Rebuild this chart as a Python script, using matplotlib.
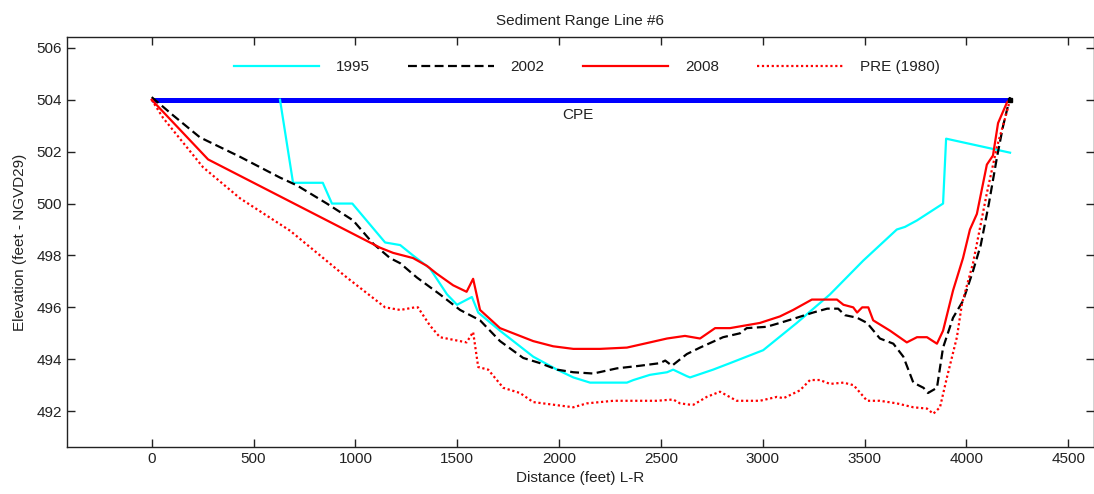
import numpy as np
import matplotlib
matplotlib.use('Agg')
from matplotlib import pyplot as plt

plt.rcParams['font.family'] = ['Liberation Sans', 'DejaVu Sans']

# cross-section survey points (distance ft, elevation ft)
x_1995 = [630, 694, 840, 885, 985, 1146, 1220, 1283, 1366, 1450, 1499, 1572, 1603,
          1710, 1873, 1990, 2070, 2152, 2333, 2365, 2446, 2530, 2560, 2627, 2643,
          2756, 2839, 3002, 3167, 3330, 3493, 3658, 3698, 3757, 3885, 3900, 4214]
y_1995 = [504.0, 500.8, 500.8, 500.0, 500.0, 498.5, 498.4, 498.0, 497.5, 496.5, 496.1,
          496.4, 495.8, 495.1, 494.1, 493.6, 493.3, 493.1, 493.1, 493.2, 493.4, 493.5,
          493.6, 493.35, 493.3, 493.6, 493.85, 494.35, 495.4, 496.5, 497.8, 499.0,
          499.1, 499.35, 500.0, 502.5, 501.96]

x_2002 = [0, 105, 237, 434, 630, 713, 860, 989, 1088, 1170, 1220, 1302, 1415, 1514,
          1612, 1710, 1824, 1907, 1990, 2070, 2168, 2284, 2397, 2495, 2521, 2554,
          2627, 2692, 2805, 2888, 2921, 3018, 3084, 3167, 3247, 3316, 3370, 3403,
          3463, 3512, 3575, 3641, 3690, 3739, 3789, 3811, 3855, 3885, 3934, 3983,
          4032, 4070, 4110, 4150, 4180, 4214]
y_2002 = [504.1, 503.4, 502.55, 501.8, 501.0, 500.7, 500.0, 499.35, 498.45, 497.9,
          497.7, 497.15, 496.5, 495.9, 495.5, 494.7, 494.05, 493.85, 493.6, 493.5,
          493.45, 493.65, 493.75, 493.85, 493.95, 493.75, 494.2, 494.45, 494.85,
          495.0, 495.2, 495.25, 495.4, 495.6, 495.8, 495.95, 495.95, 495.7, 495.6,
          495.4, 494.8, 494.6, 494.1, 493.1, 492.9, 492.7, 492.9, 494.45, 495.6,
          496.25, 497.4, 498.4, 500.0, 501.8, 503.0, 504.1]

x_2008 = [0, 277, 1121, 1185, 1283, 1351, 1399, 1480, 1546, 1578, 1612, 1710, 1873,
          1971, 2070, 2201, 2333, 2446, 2530, 2618, 2692, 2766, 2839, 2986, 3084,
          3149, 3241, 3364, 3396, 3444, 3463, 3488, 3518, 3542, 3625, 3707, 3757,
          3806, 3855, 3885, 3934, 3983, 4017, 4051, 4100, 4130, 4155, 4199, 4214]
y_2008 = [504.0, 501.7, 498.3, 498.1, 497.9, 497.6, 497.3, 496.85, 496.6, 497.1,
          495.9, 495.2, 494.7, 494.5, 494.4, 494.4, 494.45, 494.65, 494.8, 494.9,
          494.8, 495.2, 495.2, 495.4, 495.65, 495.9, 496.3, 496.3, 496.1, 496.0,
          495.8, 496.0, 496.0, 495.5, 495.1, 494.65, 494.85, 494.85, 494.6, 495.1,
          496.65, 497.9, 499.0, 499.6, 501.5, 501.85, 503.1, 503.9, 504.0]

x_pre = [0, 56, 252, 434, 680, 958, 1146, 1220, 1292, 1307, 1366, 1415, 1546, 1578,
         1603, 1652, 1726, 1808, 1873, 1971, 2070, 2136, 2266, 2480, 2560, 2594,
         2643, 2660, 2725, 2790, 2872, 2986, 3069, 3102, 3182, 3232, 3280, 3330,
         3396, 3446, 3512, 3575, 3658, 3739, 3806, 3837, 3870, 3904, 3953, 3978,
         4032, 4100, 4150, 4190, 4214]
y_pre = [504.0, 503.3, 501.4, 500.2, 498.95, 497.15, 496.0, 495.9, 496.0, 496.0,
         495.3, 494.85, 494.65, 495.05, 493.7, 493.6, 492.9, 492.7, 492.35, 492.25,
         492.15, 492.3, 492.4, 492.4, 492.45, 492.3, 492.25, 492.25, 492.55, 492.75,
         492.4, 492.4, 492.55, 492.5, 492.8, 493.2, 493.2, 493.05, 493.1, 493.0,
         492.4, 492.4, 492.3, 492.15, 492.1, 491.9, 492.15, 493.3, 494.85, 496.15,
         497.7, 500.4, 502.2, 503.3, 504.0]

cpe_x = [0, 4214]
cpe_y = [504.0, 504.0]

fs = 11
fig = plt.figure(figsize=(10.94, 4.94), dpi=100)
ax = fig.add_axes([0.061, 0.0957, 0.939, 0.829])

ax.plot(cpe_x, cpe_y, color='#0000ff', linewidth=3.6, solid_capstyle='butt')
ax.plot(x_1995, y_1995, color='#00ffff', linewidth=1.6, label='1995')
ax.plot(x_2002, y_2002, color='black', linewidth=1.6, dashes=(4, 2), label='2002')
ax.plot(x_2008, y_2008, color='red', linewidth=1.6, label='2008')
ax.plot(x_pre, y_pre, color='red', linewidth=1.6, linestyle=(0, (1, 1.2)), label='PRE (1980)')
ax.plot(cpe_x[-1], cpe_y[-1], 's', color='black', markersize=3)

ax.text(2093, 503.4, 'CPE', ha='center', va='center', fontsize=fs, color='#222222')

ax.set_xlim(-417, 4626)
ax.set_ylim(490.63, 506.41)
ax.set_xticks(np.arange(0, 4501, 500))
ax.set_yticks(np.arange(492, 507, 2))
ax.tick_params(direction='in', length=6, width=1, top=True, right=True,
               labelsize=fs, colors='#222222', labelcolor='#222222')
for s in ax.spines.values():
    s.set_linewidth(1)
    s.set_color('#222222')

ax.set_title('Sediment Range Line #6', fontsize=fs, pad=9, color='#222222')
ax.set_xlabel('Distance (feet) L-R', fontsize=fs, labelpad=4, color='#222222')
ax.set_ylabel('Elevation (feet - NGVD29)', fontsize=fs, labelpad=7, color='#222222')

leg = ax.legend(loc='center', bbox_to_anchor=(0.506, 0.927), ncol=4, frameon=False,
                fontsize=fs, handlelength=5.6, handletextpad=1.1, columnspacing=2.5)
for t in leg.get_texts():
    t.set_color('#222222')

fig.savefig('out.png', dpi=100)
